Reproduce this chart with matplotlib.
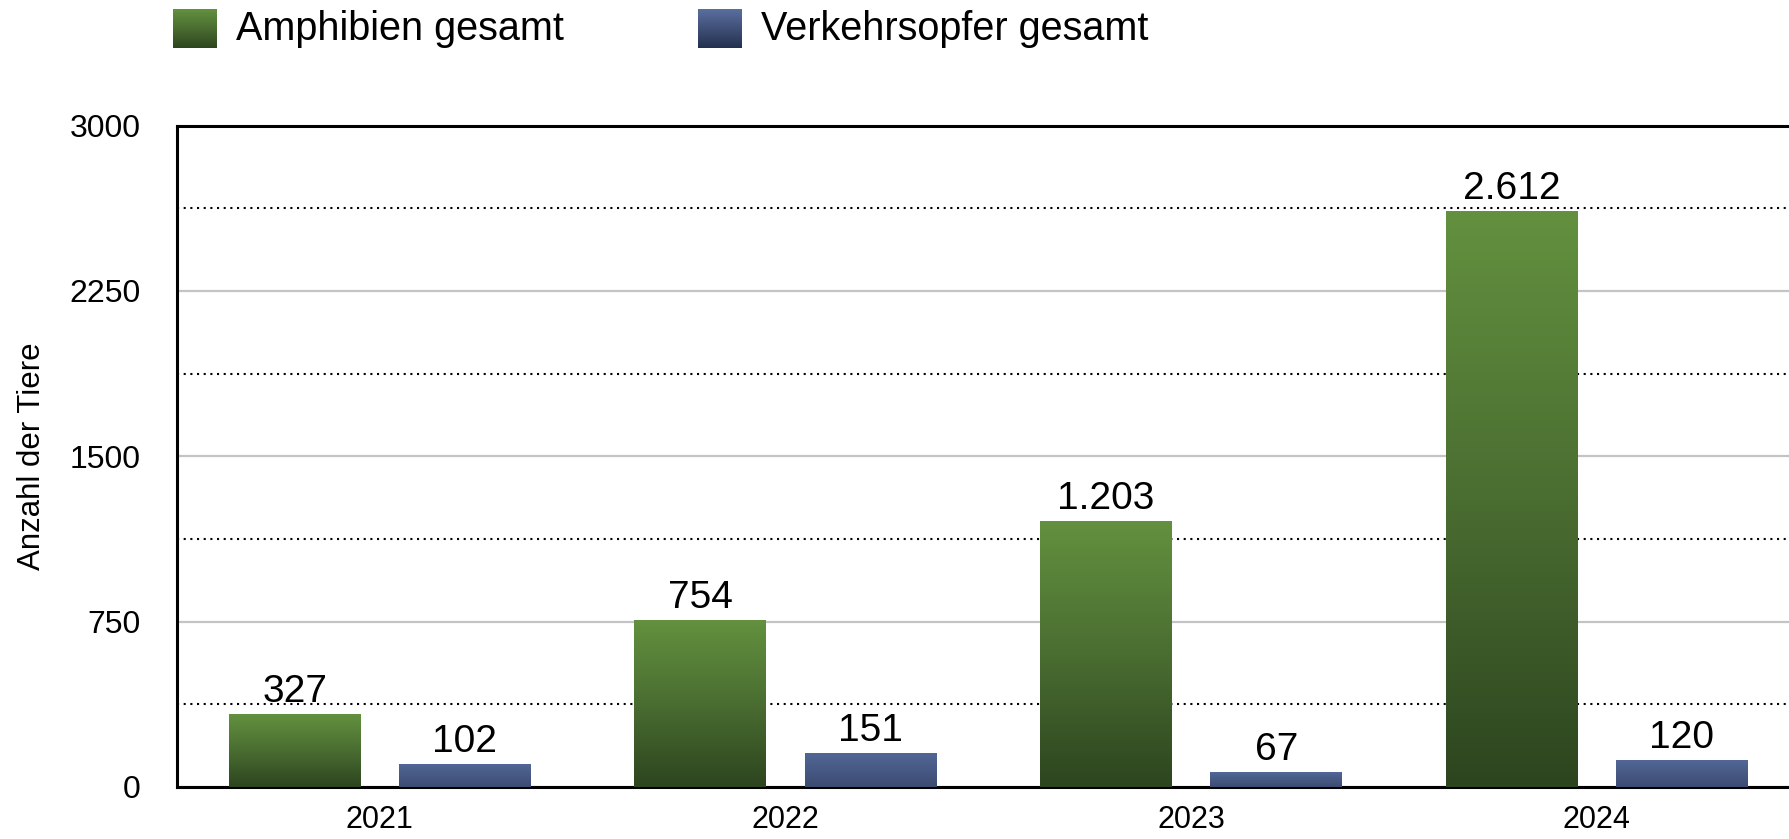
import numpy as np
import matplotlib
matplotlib.use("Agg")
import matplotlib.pyplot as plt
from matplotlib.colors import LinearSegmentedColormap

# data
years = ["2021", "2022", "2023", "2024"]
amphibien = [327, 754, 1203, 2612]
verkehrsopfer = [102, 151, 67, 120]
series_names = ["Amphibien gesamt", "Verkehrsopfer gesamt"]
major_ticks = [0, 750, 1500, 2250, 3000]
minor_ticks = [375, 1125, 1875, 2625]

plt.rcParams["font.family"] = ["Liberation Sans", "DejaVu Sans"]

green_cmap = LinearSegmentedColormap.from_list("g", ["#2d451f", "#4a6d31", "#63913f"])
blue_cmap = LinearSegmentedColormap.from_list("b", ["#3c4b72", "#526796"])
blue_legend_cmap = LinearSegmentedColormap.from_list("bl", ["#24304e", "#5a6fa0"])

grad = np.linspace(0, 1, 256).reshape(-1, 1)


def fmt(v):
    return f"{v:,}".replace(",", ".")


fig = plt.figure(figsize=(17.89, 8.39), dpi=100)
ax = fig.add_axes([0.0989, 0.062, 0.907, 0.7884])

x = np.arange(len(years))
w = 0.325
off = 0.21

bars_a = ax.bar(x - off, amphibien, w, color="none", zorder=3)
bars_v = ax.bar(x + off, verkehrsopfer, w, color="none", zorder=3)

# gradient fill for each bar
for bars, cmap in [(bars_a, green_cmap), (bars_v, blue_cmap)]:
    for b in bars:
        x0, h = b.get_x(), b.get_height()
        ax.imshow(grad, cmap=cmap, origin="lower", aspect="auto",
                  extent=(x0, x0 + b.get_width(), 0, h), zorder=3)
        ax.annotate(fmt(h), (x0 + b.get_width() / 2, h), xytext=(0, 9),
                    textcoords="offset points", ha="center", va="baseline",
                    fontsize=28)

ax.set_xlim(-0.5, 3.5)
ax.set_ylim(0, 3000)
ax.set_xticks(x)
ax.set_xticklabels(years, fontsize=22)
ax.set_yticks(major_ticks)
ax.set_yticks(minor_ticks, minor=True)
ax.tick_params(axis="y", which="both", length=0, pad=26, labelsize=23)
ax.tick_params(axis="x", length=0, pad=13)
ax.set_ylabel("Anzahl der Tiere", fontsize=22.5, labelpad=16)

ax.set_axisbelow(True)
ax.yaxis.grid(True, which="major", color="#c4c4c4", linewidth=1.6)
ax.yaxis.grid(True, which="minor", color="black", linewidth=1.5, linestyle=(0, (1, 2.2)))

for s in ["top", "left", "bottom"]:
    ax.spines[s].set_linewidth(2.2)
    ax.spines[s].set_color("black")
ax.spines["right"].set_visible(False)

# legend with gradient swatches
for i, (name, cmap) in enumerate(zip(series_names, [green_cmap, blue_legend_cmap])):
    px = [173, 698][i]
    tx = [236, 761][i]
    lax = fig.add_axes([px / 1789, 1 - 48 / 839, 44 / 1789, 39 / 839])
    lax.imshow(grad, cmap=cmap, origin="lower", aspect="auto")
    lax.axis("off")
    fig.text(tx / 1789, 1 - 28.5 / 839, name, fontsize=28.5, va="center", ha="left")

fig.savefig("out.png", dpi=100)
